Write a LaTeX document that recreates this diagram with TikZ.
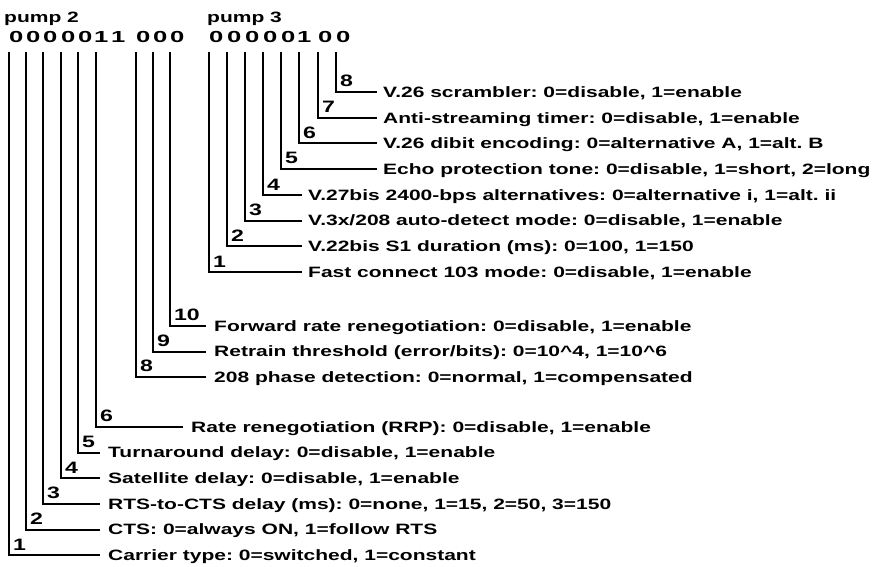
\documentclass[tikz,border=0pt]{standalone}
\usepackage{fontspec}
\setmainfont{Liberation Sans}
\newfontfamily\widefont{Liberation Sans}[FakeStretch=1.4]
\newfontfamily\bitfont{Liberation Sans}[FakeStretch=1.6]
\frenchspacing
\usetikzlibrary{positioning}

\begin{document}
\begin{tikzpicture}[
    x=1pt, y=-1pt,
    head/.style={anchor=base west, inner sep=0, font=\widefont\bfseries\fontsize{15}{18}\selectfont},
    bitval/.style={anchor=base west, inner sep=0, font=\bitfont\bfseries\fontsize{16}{19}\selectfont},
    desc/.style={anchor=west, inner sep=0, text height=10.7pt, text depth=0pt, font=\widefont\bfseries\fontsize{15}{18}\selectfont},
    num/.style={anchor=south west, inner sep=0, xshift=3pt, yshift=4pt, font=\widefont\bfseries\fontsize{16.5}{19}\selectfont},
    lead/.style={line width=2pt}
]
    \useasboundingbox (0,0) rectangle (889,567);

    % Headers
    \node[head] (pumptwo) at (4,23) {pump 2};
    \node[head] (pumpthree) at (207,23) {pump 3};

    % Bits of pump 2
    \node[bitval] (p2bit1) at (9,43) {0};
    \node[bitval] (p2bit2) at (26,43) {0};
    \node[bitval] (p2bit3) at (43,43) {0};
    \node[bitval] (p2bit4) at (61,43) {0};
    \node[bitval] (p2bit5) at (78,43) {0};
    \node[bitval] (p2bit6) at (94,43) {1};
    \node[bitval] (p2bit7) at (111,43) {1};
    \node[bitval] (p2bit8) at (136,43) {0};
    \node[bitval] (p2bit9) at (153,43) {0};
    \node[bitval] (p2bit10) at (170,43) {0};

    % Bits of pump 3
    \node[bitval] (p3bit1) at (209,43) {0};
    \node[bitval] (p3bit2) at (227,43) {0};
    \node[bitval] (p3bit3) at (245,43) {0};
    \node[bitval] (p3bit4) at (263,43) {0};
    \node[bitval] (p3bit5) at (281,43) {0};
    \node[bitval] (p3bit6) at (297,43) {1};
    \node[bitval] (p3bit7) at (318,43) {0};
    \node[bitval] (p3bit8) at (336,43) {0};

    % Descriptions of pump 3
    \node[desc] (p3txt8) at (383,92) {V.26 scrambler: 0=disable, 1=enable};
    \node[desc] (p3txt7) at (383,118) {Anti-streaming timer: 0=disable, 1=enable};
    \node[desc] (p3txt6) at (383,143.5) {V.26 dibit encoding: 0=alternative A, 1=alt. B};
    \node[desc] (p3txt5) at (383,169) {Echo protection tone: 0=disable, 1=short, 2=long};
    \node[desc] (p3txt4) at (308,195) {V.27bis 2400-bps alternatives: 0=alternative i, 1=alt. ii};
    \node[desc] (p3txt3) at (308,220.5) {V.3x/208 auto-detect mode: 0=disable, 1=enable};
    \node[desc] (p3txt2) at (308,246) {V.22bis S1 duration (ms): 0=100, 1=150};
    \node[desc] (p3txt1) at (308,272) {Fast connect 103 mode: 0=disable, 1=enable};

    % Descriptions of pump 2
    \node[desc] (p2txt10) at (214,326) {Forward rate renegotiation: 0=disable, 1=enable};
    \node[desc] (p2txt9) at (214,351.5) {Retrain threshold (error/bits): 0=10\textasciicircum4, 1=10\textasciicircum6};
    \node[desc] (p2txt8) at (214,377) {208 phase detection: 0=normal, 1=compensated};
    \node[desc] (p2txt6) at (191,427) {Rate renegotiation (RRP): 0=disable, 1=enable};
    \node[desc] (p2txt5) at (108,452.5) {Turnaround delay: 0=disable, 1=enable};
    \node[desc] (p2txt4) at (108,478) {Satellite delay: 0=disable, 1=enable};
    \node[desc] (p2txt3) at (108,504) {RTS-to-CTS delay (ms): 0=none, 1=15, 2=50, 3=150};
    \node[desc] (p2txt2) at (108,529.5) {CTS: 0=always ON, 1=follow RTS};
    \node[desc] (p2txt1) at (108,555) {Carrier type: 0=switched, 1=constant};

    % Leaders of pump 3
    \draw[lead] ([yshift=-9pt]p3bit8.south west) |- node[num] {8} ([xshift=-6pt]p3txt8.west);
    \draw[lead] ([yshift=-9pt]p3bit7.south west) |- node[num] {7} ([xshift=-6pt]p3txt7.west);
    \draw[lead] ([shift={(2pt,-9pt)}]p3bit6.south west) |- node[num] {6} ([xshift=-6pt]p3txt6.west);
    \draw[lead] ([yshift=-9pt]p3bit5.south west) |- node[num] {5} ([xshift=-6pt]p3txt5.west);
    \draw[lead] ([yshift=-9pt]p3bit4.south west) |- node[num] {4} ([xshift=-6pt]p3txt4.west);
    \draw[lead] ([yshift=-9pt]p3bit3.south west) |- node[num] {3} ([xshift=-6pt]p3txt3.west);
    \draw[lead] ([yshift=-9pt]p3bit2.south west) |- node[num] {2} ([xshift=-6pt]p3txt2.west);
    \draw[lead] ([yshift=-9pt]p3bit1.south west) |- node[num] {1} ([xshift=-6pt]p3txt1.west);

    % Leaders of pump 2
    \draw[lead] ([yshift=-9pt]p2bit10.south west) |- node[num] {10} ([xshift=-8pt]p2txt10.west);
    \draw[lead] ([yshift=-9pt]p2bit9.south west) |- node[num] {9} ([xshift=-8pt]p2txt9.west);
    \draw[lead] ([yshift=-9pt]p2bit8.south west) |- node[num] {8} ([xshift=-8pt]p2txt8.west);
    \draw[lead] ([shift={(2pt,-9pt)}]p2bit6.south west) |- node[num] {6} ([xshift=-8pt]p2txt6.west);
    \draw[lead] ([yshift=-9pt]p2bit5.south west) |- node[num] {5} ([xshift=-8pt]p2txt5.west);
    \draw[lead] ([yshift=-9pt]p2bit4.south west) |- node[num] {4} ([xshift=-8pt]p2txt4.west);
    \draw[lead] ([yshift=-9pt]p2bit3.south west) |- node[num] {3} ([xshift=-8pt]p2txt3.west);
    \draw[lead] ([yshift=-9pt]p2bit2.south west) |- node[num] {2} ([xshift=-8pt]p2txt2.west);
    \draw[lead] ([yshift=-9pt]p2bit1.south west) |- node[num] {1} ([xshift=-8pt]p2txt1.west);
\end{tikzpicture}
\end{document}
